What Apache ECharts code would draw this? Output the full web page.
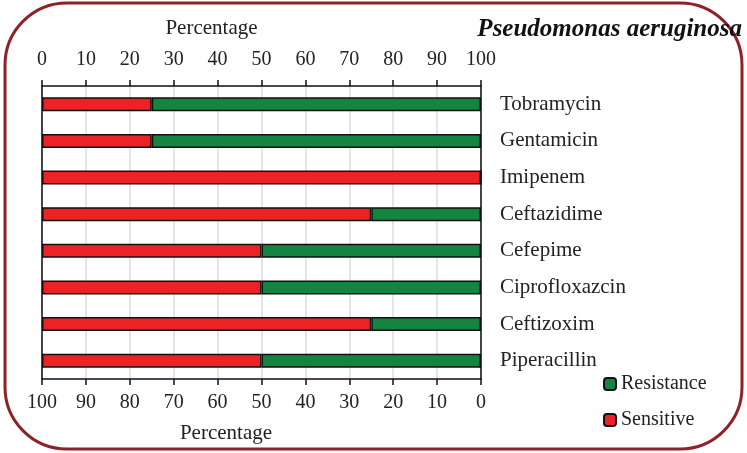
<!DOCTYPE html>
<html><head><meta charset="utf-8">
<script src="https://cdn.jsdelivr.net/npm/echarts@6/dist/echarts.min.js"></script>
<style>html,body{margin:0;padding:0;background:#fff}#c{width:747px;height:453px}</style>
</head><body><div id="c"></div>
<script>
const categories = ['Tobramycin','Gentamicin','Imipenem','Ceftazidime','Cefepime','Ciprofloxazcin','Ceftizoxim','Piperacillin'];
const sensitive = [25,25,100,75,50,50,75,50];
const resistance = [75,75,0,25,50,50,25,50];

const FONT = 'Liberation Serif';
const chart = echarts.init(document.getElementById('c'));
chart.setOption({
  animation:false,
  textStyle:{fontFamily:FONT,color:'#222'},
  grid:{left:42,right:266,top:86,bottom:74},
  legend:{
    orient:'vertical', left:603, top:374, padding:0, itemWidth:12, itemHeight:12, itemGap:16,
    textStyle:{fontFamily:FONT,fontSize:20,color:'#222'},
    data:['Resistance','Sensitive']
  },
  xAxis:[{
    type:'value', position:'top', min:0, max:100, interval:10,
    name:'Percentage', nameLocation:'middle', nameGap:47,
    nameTextStyle:{fontFamily:FONT,fontSize:21,color:'#222',padding:[0,100,0,0]},
    axisLine:{show:true,lineStyle:{color:'#111',width:1.5}},
    axisTick:{show:true,length:6,lineStyle:{color:'#111',width:1.5}},
    axisLabel:{fontFamily:FONT,fontSize:20,color:'#222',margin:16},
    splitLine:{show:true,lineStyle:{color:'#dcdcdc',width:1.5}}
  },{
    type:'value', position:'bottom', min:0, max:100, interval:10, inverse:true,
    name:'Percentage', nameLocation:'middle', nameGap:44,
    nameTextStyle:{fontFamily:FONT,fontSize:21,color:'#222',padding:[0,71,0,0]},
    axisLine:{show:true,lineStyle:{color:'#111',width:1.5}},
    axisTick:{show:true,length:6,lineStyle:{color:'#111',width:1.5}},
    axisLabel:{fontFamily:FONT,fontSize:20,color:'#222',margin:14},
    splitLine:{show:false}
  }],
  yAxis:[{
    type:'category', data:categories, inverse:true, position:'right',
    axisLine:{show:true,lineStyle:{color:'#111',width:1.5}},
    axisTick:{show:false},
    axisLabel:{fontFamily:FONT,fontSize:21,color:'#222',margin:19,align:'left'}
  },{
    type:'category', data:categories, inverse:true, position:'left',
    axisLine:{show:true,lineStyle:{color:'#111',width:1.5}},
    axisTick:{show:false}, axisLabel:{show:false}
  }],
  series:[{
    name:'Sensitive', type:'bar', stack:'a', data:sensitive, barWidth:14,
    itemStyle:{color:'#ed2227',borderColor:'#111',borderWidth:1.5}
  },{
    name:'Resistance', type:'bar', stack:'a', data:resistance, barWidth:14,
    itemStyle:{color:'#138541',borderColor:'#111',borderWidth:1.5}
  }],
  graphic:[{
    type:'rect', z:-1, shape:{x:5,y:3,width:737,height:446,r:62},
    style:{fill:'none',stroke:'#8e2228',lineWidth:3}
  },{
    type:'text', x:742, y:30, z:10,
    style:{text:'Pseudomonas aeruginosa',fontFamily:FONT,fontSize:25,fontWeight:'bold',fontStyle:'italic',fill:'#111',align:'right',verticalAlign:'middle'}
  }]
});
</script></body></html>
